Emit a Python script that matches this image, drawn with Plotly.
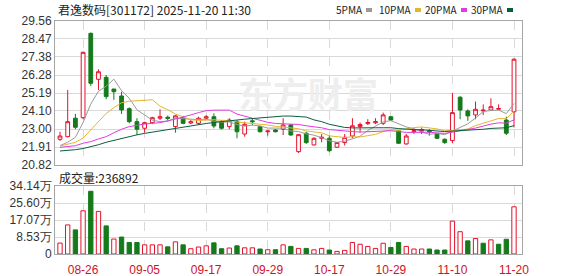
import plotly.graph_objects as go

# ---------------- data ----------------
dates = ["08-21","08-22","08-25","08-26","08-27","08-28","08-29",
         "09-01","09-02","09-03","09-04","09-05","09-08","09-09","09-10","09-11","09-12",
         "09-15","09-16","09-17","09-18","09-19","09-22","09-23","09-24","09-25","09-26",
         "09-29","09-30","10-09","10-10","10-13","10-14","10-15","10-16","10-17",
         "10-20","10-21","10-22","10-23","10-24","10-27","10-28","10-29","10-30","10-31",
         "11-03","11-04","11-05","11-06","11-07","11-10","11-11","11-12","11-13","11-14",
         "11-17","11-18","11-19","11-20"]

opens  = [22.38,22.54,23.66,23.69,28.81,26.02,26.14,25.43,25.01,24.24,23.45,23.05,23.39,23.66,23.72,23.15,23.69,
          23.37,23.35,23.66,23.75,23.45,23.15,23.45,22.70,23.50,23.15,22.84,22.95,22.99,23.25,21.63,22.75,
          22.04,22.44,22.44,21.90,22.18,22.58,23.15,23.33,23.38,23.35,23.75,22.90,22.10,22.84,22.88,22.90,
          22.70,22.38,22.30,24.93,24.10,23.86,24.10,24.16,24.20,23.55,24.05]
highs  = [22.84,25.37,23.92,27.70,28.86,26.63,26.28,25.45,25.27,24.32,23.66,23.45,23.75,24.20,23.82,23.86,23.80,
          23.55,23.75,23.85,23.96,23.55,23.66,23.55,23.45,23.66,23.20,22.95,23.00,23.66,23.30,22.70,22.84,
          22.50,22.70,22.60,22.20,22.70,23.66,23.40,23.60,23.66,24.00,23.80,22.95,22.70,23.05,23.10,23.00,
          22.75,22.44,25.20,25.00,24.20,24.67,24.50,24.87,24.50,23.75,27.30]
lows   = [22.28,22.50,22.99,23.60,25.62,25.37,24.81,24.77,23.92,23.35,22.64,22.78,23.30,23.55,23.50,22.78,23.30,
          23.30,23.25,23.55,23.05,22.97,22.99,22.44,22.54,23.25,22.80,22.60,22.80,22.64,22.60,21.55,22.10,
          22.00,22.20,21.60,21.85,22.00,22.44,22.80,23.25,23.30,23.25,23.50,22.10,22.05,22.70,22.70,22.60,
          22.40,22.10,22.14,23.60,23.50,23.60,23.85,24.10,24.15,22.64,23.10]
closes = [22.58,23.45,23.11,27.66,25.78,26.48,24.97,25.27,24.16,23.45,22.99,23.39,23.69,23.75,23.65,23.80,23.35,
          23.45,23.66,23.75,23.19,23.05,23.55,22.84,23.29,23.45,22.84,22.88,22.84,23.25,22.64,22.66,22.18,
          22.44,22.50,21.69,22.18,22.50,23.20,23.28,23.40,23.45,23.86,23.55,22.14,22.58,22.90,22.95,22.84,
          22.44,22.18,24.00,24.16,23.80,24.20,24.15,24.36,24.25,22.75,27.24]
volumes = [54700,146000,121000,217000,315000,214000,141000,75000,85000,58000,58000,46000,46000,46000,36000,61000,46000,
           26500,35000,41000,56000,26500,30000,41000,31000,31000,25000,21500,21500,46000,38000,28000,28000,
           21000,28000,20000,13000,18000,58000,49000,38000,28000,54000,33000,58000,38000,25000,25000,25000,
           20000,20000,165000,112000,66000,77500,54000,71000,49000,74000,236892]

ma5  = [22.00,22.20,22.50,23.40,24.52,25.30,25.60,26.03,25.33,24.87,24.17,23.85,23.54,23.45,23.49,23.66,23.65,
        23.60,23.58,23.60,23.48,23.42,23.44,23.28,23.18,23.24,23.19,23.06,23.06,23.05,22.89,22.85,22.71,
        22.63,22.48,22.29,22.20,22.26,22.41,22.57,22.91,23.15,23.44,23.51,23.30,23.13,23.02,22.82,22.68,
        22.74,22.66,22.88,23.12,23.32,23.67,24.06,24.13,24.15,23.94,24.55]
ma10 = [21.97,22.10,22.20,22.45,22.95,23.50,23.95,24.30,24.60,24.69,24.73,24.73,24.78,24.39,24.18,23.91,23.75,
        23.57,23.52,23.55,23.57,23.53,23.52,23.43,23.39,23.36,23.31,23.25,23.17,23.12,23.06,23.02,22.89,
        22.85,22.77,22.59,22.52,22.49,22.53,22.52,22.60,22.68,22.85,22.96,22.92,23.01,23.09,23.13,23.09,
        23.01,22.89,22.94,22.97,23.00,23.21,23.36,23.51,23.64,23.63,24.11]
ma20 = [21.89,21.93,21.99,22.14,22.24,22.40,22.54,22.78,22.99,23.15,23.25,23.31,23.35,23.39,23.49,23.60,23.72,
        23.86,24.00,24.12,24.15,24.13,24.15,23.91,23.79,23.64,23.53,23.41,23.34,23.33,23.32,23.28,23.20,
        23.14,23.08,22.97,22.92,22.87,22.85,22.82,22.83,22.85,22.87,22.90,22.85,22.80,22.80,22.81,22.81,
        22.77,22.74,22.81,22.91,22.98,23.06,23.19,23.30,23.38,23.36,23.56]
ma30 = [21.67,21.70,21.75,21.82,21.92,22.05,22.20,22.32,22.44,22.55,22.65,22.74,22.82,22.90,22.98,23.06,23.14,
        23.22,23.28,23.34,23.40,23.46,23.50,23.55,23.60,23.64,23.68,23.72,23.76,23.79,23.79,23.76,23.73,
        23.56,23.45,23.29,23.19,23.10,23.07,23.06,23.08,23.08,23.08,23.08,23.03,22.99,22.97,22.96,22.93,
        22.88,22.85,22.88,22.90,22.93,22.97,22.99,23.04,23.08,23.08,23.21]

price_ticks = [20.82, 21.91, 23.00, 24.10, 25.19, 26.28, 27.38, 28.47, 29.56]
vol_ticks = [0, 85300, 170700, 256000, 341400]
vol_tick_text = ["0", "8.53万", "17.07万", "25.60万", "34.14万"]
date_ticks = ["08-26", "09-05", "09-17", "09-29", "10-17", "10-29", "11-10", "11-20"]
title_text = "君逸数码[301172] 2025-11-20 11:30"
vol_label = "成交量:236892"
ma_names = ["5PMA", "10PMA", "20PMA", "30PMA"]

# ---------------- style ----------------
RED = "#e5112b"
GREEN = "#147a1a"
MA_COLORS = ["#9a9a9a", "#e6b530", "#e03ce0", "#0b5e3c"]
GRID = "#d9d9d9"
BORDER = "#a6a6a6"
FONT = "Liberation Sans, Arial, sans-serif"
CJK = "Noto Sans CJK SC, sans-serif"

W, H = 578, 276
L, R, T, B = 55, 56, 21, 22
PW, PH = W - L - R, H - T - B


def px(x):
    return (x - L) / PW


def py(y):
    return (H - B - y) / PH


idx = list(range(len(dates)))
date_pos = [idx[dates.index(d)] for d in date_ticks]

fig = go.Figure()
fig.add_trace(go.Candlestick(
    x=idx, open=opens, high=highs, low=lows, close=closes,
    xaxis="x", yaxis="y", whiskerwidth=0,
    increasing=dict(line=dict(color=RED, width=1), fillcolor="white"),
    decreasing=dict(line=dict(color=GREEN, width=1), fillcolor=GREEN),
    showlegend=False, hoverinfo="skip"))

for name, ma, col in zip(ma_names, [ma5, ma10, ma20, ma30], MA_COLORS):
    fig.add_trace(go.Scatter(x=idx, y=ma, mode="lines", name=name,
                             line=dict(color=col, width=1), xaxis="x", yaxis="y",
                             showlegend=False, hoverinfo="skip"))

up = [True] + [closes[i] >= closes[i - 1] for i in range(1, len(closes))]
fig.add_trace(go.Bar(
    x=idx, y=volumes, xaxis="x2", yaxis="y2", width=0.56,
    marker=dict(color=["white" if u else GREEN for u in up],
                line=dict(color=[RED if u else GREEN for u in up], width=1)),
    showlegend=False, hoverinfo="skip"))

xr = [-0.65, len(dates) - 1 + 1.04]
common_x = dict(range=xr, showgrid=True, gridcolor=GRID, griddash="dash", gridwidth=1,
                tickvals=date_pos, ticktext=date_ticks, zeroline=False,
                showline=True, mirror=True, linecolor=BORDER, linewidth=1,
                fixedrange=True, automargin=False)
common_y = dict(showgrid=True, gridcolor=GRID, gridwidth=1, zeroline=False,
                showline=True, mirror=True, linecolor=BORDER, linewidth=1,
                tickfont=dict(family=FONT, size=12, color="#333333"), ticks="",
                fixedrange=True, automargin=False)

fig.update_layout(
    width=W, height=H, margin=dict(l=L, r=R, t=T, b=B, pad=0, autoexpand=False),
    paper_bgcolor="white", plot_bgcolor="white", showlegend=False,
    xaxis=dict(**common_x, anchor="y", showticklabels=False, rangeslider=dict(visible=False)),
    xaxis2=dict(**common_x, anchor="y2", matches="x", showticklabels=True,
                ticks="outside", ticklen=5, tickcolor="rgba(0,0,0,0)",
                tickfont=dict(family=FONT, size=12, color="#d0102a")),
    yaxis=dict(**common_y, domain=[py(165), 1], range=[price_ticks[0], price_ticks[-1]],
               tickvals=price_ticks, ticktext=[f"{v:.2f}" for v in price_ticks]),
    yaxis2=dict(**common_y, domain=[0, py(186)], range=[0, vol_ticks[-1]],
                tickvals=vol_ticks, ticktext=vol_tick_text),
)

ann = [
    dict(x=px(56), y=py(9), xref="paper", yref="paper", xanchor="left", yanchor="middle",
         text=title_text, showarrow=False, font=dict(family=CJK, size=12, color="#222222")),
    dict(x=px(57), y=py(177), xref="paper", yref="paper", xanchor="left", yanchor="middle",
         text=vol_label, showarrow=False, font=dict(family=CJK, size=12, color="#222222")),
    dict(x=px(308), y=py(92), xref="paper", yref="paper", xanchor="center", yanchor="middle",
         text="<b>东方财富</b>", showarrow=False, font=dict(family=CJK, size=35, color="#eeeeee")),
]
square_x = [366, 415, 461, 507]
shapes = []
for name, sx, col in zip(ma_names, square_x, MA_COLORS):
    ann.append(dict(x=px(sx - 1), y=py(10), xref="paper", yref="paper", xanchor="right", yanchor="middle",
                    text=name, showarrow=False, font=dict(family=CJK, size=10, color="#222222")))
    shapes.append(dict(type="rect", xref="paper", yref="paper",
                       x0=px(sx), x1=px(sx + 6), y0=py(12), y1=py(8),
                       fillcolor=col, line=dict(width=0)))
fig.update_layout(annotations=ann, shapes=shapes)

fig.write_html("out.html")
